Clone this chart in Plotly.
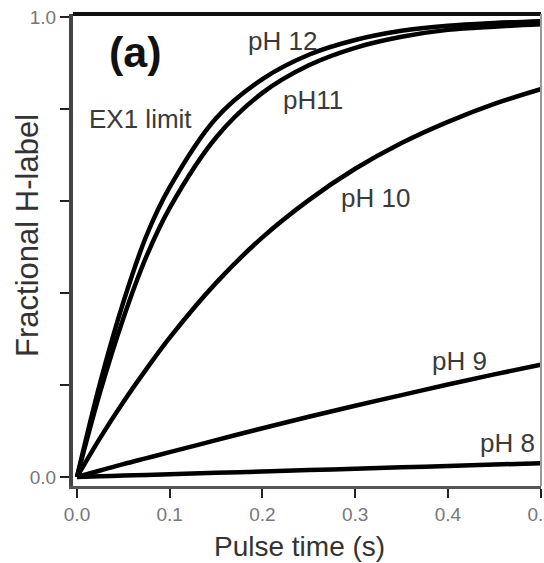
import plotly.graph_objects as go

# Pulse times (s) and fractional H-label for each pH
pulse_time = [0, 0.025, 0.05, 0.075, 0.1, 0.15, 0.2, 0.25, 0.3, 0.35, 0.4, 0.45, 0.5]
ph12 = [0, 0.205, 0.38, 0.525, 0.63, 0.78, 0.865, 0.918, 0.95, 0.97, 0.981, 0.987, 0.991]
ph11 = [0, 0.185, 0.345, 0.48, 0.585, 0.738, 0.835, 0.895, 0.933, 0.957, 0.972, 0.979, 0.984]
ph10 = [0, 0.085, 0.163, 0.235, 0.303, 0.422, 0.521, 0.602, 0.670, 0.726, 0.772, 0.811, 0.843]
ph9 = [0, 0.014, 0.028, 0.041, 0.054, 0.080, 0.106, 0.131, 0.155, 0.178, 0.201, 0.223, 0.244]
ph8 = [0, 0.0015, 0.003, 0.0045, 0.006, 0.009, 0.012, 0.015, 0.018, 0.021, 0.024, 0.027, 0.030]

series = [("pH 12", ph12), ("pH11", ph11), ("pH 10", ph10), ("pH 9", ph9), ("pH 8", ph8)]

# curve labels: (text, x, y)
labels = [
    ("pH 12", 0.222, 0.948),
    ("pH11", 0.255, 0.82),
    ("EX1 limit", 0.069, 0.778),
    ("pH 10", 0.322, 0.606),
    ("pH 9", 0.412, 0.252),
    ("pH 8", 0.464, 0.074),
]

x_ticks = [0, 0.1, 0.2, 0.3, 0.4, 0.5]
x_tick_text = ["0.0", "0.1", "0.2", "0.3", "0.4", "0.5"]
y_ticks = [0, 0.2, 0.4, 0.6, 0.8, 1.0]
y_tick_text = ["0.0", "", "", "", "", "1.0"]

FONT = "Liberation Sans, Arial, sans-serif"

fig = go.Figure()
for name, vals in series:
    fig.add_trace(go.Scatter(
        x=pulse_time, y=vals, mode="lines", name=name,
        line=dict(color="black", width=4.5, shape="spline", smoothing=1.0),
        showlegend=False, hoverinfo="skip", cliponaxis=True,
    ))

for text, x, y in labels:
    fig.add_annotation(x=x, y=y, xref="x", yref="y", text=text, showarrow=False,
                       font=dict(family=FONT, size=26, color="#3a3a3a"),
                       xanchor="center", yanchor="middle")

fig.add_annotation(x=0.0636, y=0.924, xref="x", yref="y", text="<b>(a)</b>",
                   showarrow=False, font=dict(family=FONT, size=43, color="#111"),
                   xanchor="center", yanchor="middle")

# axis titles
fig.add_annotation(x=0.485, y=-0.129, xref="paper", yref="paper", text="Pulse time (s)",
                   showarrow=False, font=dict(family=FONT, size=28, color="#333"),
                   xanchor="center", yanchor="middle")
fig.add_annotation(x=-0.096, y=0.53, xref="paper", yref="paper", text="Fractional H-label",
                   textangle=-90, showarrow=False,
                   font=dict(family=FONT, size=31, color="#333"),
                   xanchor="center", yanchor="middle")

# top and right frame lines
fig.add_shape(type="line", xref="paper", yref="paper", x0=0, x1=1, y0=1, y1=1,
              line=dict(color="#111", width=4))
fig.add_shape(type="line", xref="paper", yref="paper", x0=1, x1=1, y0=0, y1=1,
              line=dict(color="#999", width=2))

fig.update_xaxes(
    range=[-0.0043, 0.5004], tickvals=x_ticks, ticktext=x_tick_text,
    showgrid=False, zeroline=False, showline=True, linecolor="#555", linewidth=3,
    ticks="outside", ticklen=9, tickwidth=2, tickcolor="#222",
    tickfont=dict(family=FONT, size=19, color="#777"),
    ticklabeloverflow="allow", automargin=False,
)
fig.update_yaxes(
    range=[-0.0196, 1.0065], tickvals=y_ticks, ticktext=y_tick_text,
    showgrid=False, zeroline=False, showline=True, linecolor="#444", linewidth=4,
    ticks="outside", ticklen=9, tickwidth=2, tickcolor="#222",
    tickfont=dict(family=FONT, size=19, color="#777"),
    automargin=False,
)
fig.update_layout(
    width=544, height=563,
    margin=dict(l=73, r=3, t=14, b=77),
    plot_bgcolor="white", paper_bgcolor="white",
)
fig.write_html("out.html")
